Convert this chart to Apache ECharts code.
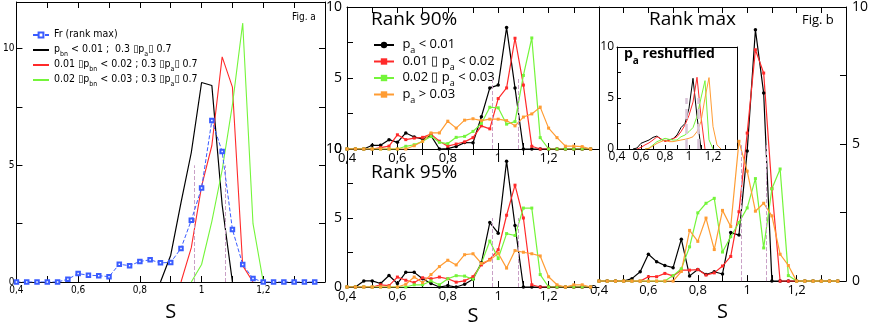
<!DOCTYPE html>
<html><head><meta charset="utf-8">
<script src="https://cdn.jsdelivr.net/npm/echarts@6/dist/echarts.min.js"></script>
<style>html,body{margin:0;padding:0;background:#fff}#c{width:871px;height:327px}</style>
</head><body><div id="c"></div>
<script>
// ---- data ----
const S_BINS = [0.4, 0.4333, 0.4667, 0.5, 0.5333, 0.5667, 0.6, 0.6333, 0.6667, 0.7, 0.7333, 0.7667, 0.8, 0.8333, 0.8667, 0.9, 0.9333, 0.9667, 1.0, 1.0333, 1.0667, 1.1, 1.1333, 1.1667, 1.2, 1.2333, 1.2667, 1.3, 1.3333, 1.3667];
const REF_LINES = [0.977, 1.078];
const REF_TOP = 5;

// Fig. a
const frRankMax = [0,0,0,0,0,0.12,0.36,0.29,0.27,0.23,0.76,0.70,0.88,0.95,0.82,0.84,1.44,2.65,4.03,6.92,5.59,2.25,0.75,0.15,0,0,0,0,0,0];
const aBlack = [null,null,null,null,null,null,null,null,null,null,null,null,null,null,0,1.15,3.4,5.55,8.55,8.42,3.3,0,null,null,null,null,null,null,null,null];
const aRed   = [null,null,null,null,null,null,null,null,null,null,null,null,null,null,null,null,0,1.47,4.1,5.85,9.65,8.35,0.7,0,null,null,null,null,null,null];
const aGreen = [null,null,null,null,null,null,null,null,null,null,null,null,null,null,null,null,null,0,0.75,2.6,4.8,7.6,11.1,2.5,0,null,null,null,null,null];

// Rank 90%
const r90Black  = [0,0,0,0.26,0.26,0.66,0.47,1.13,0.85,0.7,0.94,0,0.03,0.18,0.45,0.44,2.27,4.3,4.5,8.55,4.3,0,0,0,0,0,0,0,0,0];
const r90Red    = [0,0,0,0,0.1,0.2,1.0,0.66,0.77,0.82,1.05,0.55,0.2,0.35,0.5,0.8,1.63,1.42,3.55,4.3,7.8,4.5,0.19,0,0,0,0,0,0,0];
const r90Green  = [0,0,0,0,0,0,0,0.19,0.3,0.54,0.89,0.47,0.38,0.82,0.89,1.24,1.8,2.94,2.9,1.75,1.93,5.18,7.82,0.8,0,0,0,0,0,0];
const r90Orange = [0,0,0,0,0,0,0,0,0.23,0.54,1.13,1.13,1.96,1.47,2.03,2.13,2.0,2.1,2.1,2.0,1.63,2.25,2.47,2.95,1.47,0.8,0.2,0.2,0.17,0];

// Rank 95%
const r95Black  = [0,0,0.44,0.44,0.25,0.83,0.25,1.06,1.06,0.6,0.25,0,0.1,0,0.2,0.56,1.75,4.67,3.9,9.12,4.45,0,0,0,0,0,0,0,0,0];
const r95Red    = [0,0,0,0,0.16,0.1,0.72,0.49,0.32,0.67,0.6,0.72,0.6,0.35,0.45,0.75,1.6,2.0,2.7,5.2,7.38,5.0,0.16,0,0,0,0,0,0,0];
const r95Green  = [0,0,0,0,0,0,0,0,0.16,0.16,0.44,0.16,0.6,0.82,0.79,0.56,1.71,3.33,2.06,3.87,3.73,5.72,5.72,0.9,0,0,0,0,0,0];
const r95Orange = [0,0,0,0,0,0,0,0.2,0.72,0.32,0.9,1.48,1.94,1.6,2.34,2.41,1.71,1.95,2.45,1.37,2.64,2.52,2.41,2.25,0.74,0.16,0,0.16,0.16,0];

// Rank max
const rmBlack  = [0,0,0,0,0.09,0.34,0.98,0.71,0.57,0.49,1.53,0.19,0.42,0.24,0.34,0.26,1.77,1.68,4.75,9.17,6.86,0,0,0,0,0,0,0,0,0];
const rmRed    = [0,0,0,0,0,0,0.16,0.16,0.28,0.19,0.4,0.4,0.42,0.22,0.3,0.55,0.9,2.53,5.4,8.44,7.59,3.37,0,0,0,0,0,0,0,0];
const rmGreen  = [0,0,0,0,0,0,0,0,0,0.2,0.45,1.25,2.49,2.84,3.02,1.06,1.62,2.14,2.67,3.74,1.21,3.37,4.09,0.2,0,0,0,0,0,0];
const rmOrange = [0,0,0,0,0,0,0,0,0,0,0.35,1.85,1.45,2.3,1.15,2.58,1.99,5.1,4.01,2.55,2.84,2.38,0.98,0.57,0,0,0,0,0,0];

// p_a reshuffled (inset)
const insBlack  = [null,null,null,null,0,0.1,0.56,0.72,0.88,1.14,1.27,0.95,0.8,0.9,1.0,1.37,2.1,2.5,4.0,6.93,3.2,0,null,null,null,null,null,null,null,null];
const insRed    = [null,null,null,null,null,0,0.16,0.4,0.6,0.88,1.2,1.0,0.72,0.85,1.0,1.2,1.7,2.35,3.3,4.6,7.03,3.2,0,null,null,null,null,null,null,null];
const insGreen  = [null,null,null,null,null,null,null,0,0.07,0.4,0.72,0.88,1.05,0.95,0.88,0.88,1.2,1.37,1.7,2.1,3.2,5.0,6.7,0.9,0,null,null,null,null,null];
const insOrange = [null,null,null,null,null,null,null,0,0.07,0.3,0.55,0.72,0.88,0.72,0.72,0.8,0.88,0.95,1.05,1.2,1.7,2.7,5.0,7.0,2.2,0.4,0,null,null,null];

// ---- styles ----
const NARROW = "'Liberation Sans Narrow','DejaVu Sans Condensed',sans-serif";
const SANS = "'Open Sans','Noto Sans',sans-serif";
const BLACK = '#000000', RED = '#ff2a2a', GREEN = '#74f53a', ORANGE = '#ff9c33', BLUE = '#3a5cff', PINK = '#c9a0c6';
const BOX = '\u25AF';

const grids = [
  {left: 12, top: 2, width: 313, height: 290, ymax: 12},
  {left: 347, top: 7, width: 252, height: 142, ymax: 10},
  {left: 347, top: 149, width: 252, height: 144, ymax: 10},
  {left: 599, top: 7, width: 252, height: 286, ymax: 10},
  {left: 617, top: 47, width: 120, height: 102, ymax: 10}
];
const fmtX = v => { const k = Math.round(v * 10); if (k % 2 || k >= 14) return ''; return String(k / 10).replace('.', ','); };
const fmtY = v => (Math.abs(v % 5) < 1e-6 && v <= 10) ? String(v) : '';

const xAxes = [], yAxes = [];
grids.forEach((g, i) => {
  const left = i === 0, inset = i === 4;
  const fs = left ? 10 : (inset ? 12 : 13);
  const ff = left ? NARROW : SANS;
  const tickLen = inset ? 4 : 6;
  xAxes.push({
    type: 'value', gridIndex: i, min: 0.4, max: 1.4, interval: 0.1, position: 'bottom',
    axisLine: {show: true, onZero: false, lineStyle: {color: '#000', width: 1}},
    axisTick: {show: true, inside: true, length: tickLen, lineStyle: {color: '#000'}},
    splitLine: {show: false},
    axisLabel: {formatter: fmtX, fontSize: fs, fontFamily: ff, color: '#000', margin: inset ? 2 : 3, showMaxLabel: false},
    name: (i === 1 || i === 4) ? '' : 'S', nameLocation: 'middle', nameGap: left ? 20 : 19,
    nameTextStyle: {fontSize: 20, fontFamily: SANS, color: '#000'}
  });
  xAxes.push({
    type: 'value', gridIndex: i, min: 0.4, max: 1.4, interval: 0.1, position: 'top',
    axisLine: {show: true, onZero: false, lineStyle: {color: '#000', width: 1}},
    axisTick: {show: !inset, inside: true, length: tickLen, lineStyle: {color: '#000'}},
    splitLine: {show: false}, axisLabel: {show: false}
  });
  const rightLabels = i === 3;
  yAxes.push({
    type: 'value', gridIndex: i, min: 0, max: g.ymax, interval: 2.5, position: 'left',
    axisLine: {show: true, onZero: false, lineStyle: {color: '#000', width: 1}},
    axisTick: {show: !rightLabels, inside: true, length: inset ? 4 : 6, lineStyle: {color: '#000'}},
    splitLine: {show: false},
    axisLabel: {show: !rightLabels, formatter: fmtY, fontSize: left ? 10 : (inset ? 12 : 14), fontFamily: ff, color: '#000', margin: left ? 2 : (inset ? 3 : 5), showMaxLabel: i !== 0}
  });
  yAxes.push({
    type: 'value', gridIndex: i, min: 0, max: g.ymax, interval: 2.5, position: 'right',
    axisLine: {show: i !== 1 && i !== 2, onZero: false, lineStyle: {color: '#000', width: 1}},
    axisTick: {show: (i === 0 || i === 3), inside: true, length: 6, lineStyle: {color: '#000'}},
    splitLine: {show: false},
    axisLabel: {show: rightLabels, formatter: fmtY, fontSize: 14, fontFamily: SANS, color: '#000', margin: 6}
  });
});

function pairs(ys) { return S_BINS.map((x, i) => [x, ys[i]]); }
function refMark(width, color) {
  return {
    silent: true, symbol: 'none', label: {show: false},
    lineStyle: {type: 'dashed', color: color, width: width},
    data: REF_LINES.map(x => [{coord: [x, 0]}, {coord: [x, REF_TOP]}])
  };
}
function ser(name, gi, ys, color, o) {
  o = o || {};
  return Object.assign({
    type: 'line', name: name, xAxisIndex: 2 * gi, yAxisIndex: 2 * gi, data: pairs(ys),
    symbol: o.symbol || 'circle', symbolSize: o.size || 3.5, showSymbol: o.showSymbol !== false,
    lineStyle: {color: color, width: o.width || 1.2, type: o.type || 'solid'},
    itemStyle: {color: color}, connectNulls: false, animation: false, z: o.z || 3
  }, o.extra || {});
}

const series = [];
// Fig. a
series.push(ser('A1', 0, aBlack, BLACK, {showSymbol: false, symbol: 'none', width: 1.2}));
series.push(ser('A2', 0, aRed, RED, {showSymbol: false, symbol: 'none', width: 1.1}));
series.push(ser('A3', 0, aGreen, GREEN, {showSymbol: false, symbol: 'none', width: 1.1}));
series.push(ser('Fr', 0, frRankMax, BLUE, {symbol: 'emptyRect', size: 3.5, width: 1, type: 'dashed', z: 5,
  extra: {markLine: refMark(1, PINK)}}));
// middle + right panels
[[1, r90Black, r90Red, r90Green, r90Orange], [2, r95Black, r95Red, r95Green, r95Orange], [3, rmBlack, rmRed, rmGreen, rmOrange]].forEach(p => {
  const gi = p[0];
  series.push(ser('M1', gi, p[1], BLACK, {size: 3.5, extra: {markLine: refMark(1, PINK)}}));
  series.push(ser('M2', gi, p[2], RED, {symbol: 'rect', size: 3}));
  series.push(ser('M3', gi, p[3], GREEN, {symbol: 'rect', size: 3}));
  series.push(ser('M4', gi, p[4], ORANGE, {symbol: 'rect', size: 3}));
});
// inset
series.push(ser('I1', 4, insBlack, BLACK, {showSymbol: false, symbol: 'none', width: 1, extra: {markLine: refMark(2.5, '#d9c4d8')}}));
series.push(ser('I2', 4, insRed, RED, {showSymbol: false, symbol: 'none', width: 1}));
series.push(ser('I3', 4, insGreen, GREEN, {showSymbol: false, symbol: 'none', width: 1}));
series.push(ser('I4', 4, insOrange, ORANGE, {showSymbol: false, symbol: 'none', width: 1}));

const richL = {
  t: {fontSize: 10.5, lineHeight: 14, verticalAlign: 'top', padding: [1, 0, 0, 0], fontFamily: NARROW, color: '#000'},
  s: {fontSize: 7, lineHeight: 9, verticalAlign: 'top', padding: [8, 0, 0, 0], fontFamily: NARROW, color: '#000'}
};
const labelsL = {
  'Fr': '{t|Fr (rank max)}{s| }',
  'A1': '{t|p}{s|bn}{t| < 0.01 ;  0.3 ' + BOX + 'p}{s|a}{t|' + BOX + ' 0.7}',
  'A2': '{t|0.01 ' + BOX + 'p}{s|bn}{t| < 0.02 ; 0.3 ' + BOX + 'p}{s|a}{t|' + BOX + ' 0.7}',
  'A3': '{t|0.02 ' + BOX + 'p}{s|bn}{t| < 0.03 ; 0.3 ' + BOX + 'p}{s|a}{t|' + BOX + ' 0.7}'
};
const richM = {
  t: {fontSize: 13, lineHeight: 16, verticalAlign: 'top', padding: [1, 0, 0, 0], fontFamily: SANS, color: '#000'},
  s: {fontSize: 9, lineHeight: 9, verticalAlign: 'top', padding: [9, 0, 0, 0], fontFamily: SANS, color: '#000'}
};
const labelsM = {
  'M1': '{t| p}{s|a}{t| < 0.01}',
  'M2': '{t| 0.01 ' + BOX + ' p}{s|a}{t| < 0.02}',
  'M3': '{t| 0.02 ' + BOX + ' p}{s|a}{t| < 0.03}',
  'M4': '{t| p}{s|a}{t| > 0.03}'
};
const noSym = {opacity: 0};

const option = {
  backgroundColor: '#ffffff',
  animation: false,
  grid: grids.map((g, i) => ({left: g.left, top: g.top, width: g.width, height: g.height, containLabel: false,
    show: i === 4, backgroundColor: '#ffffff', borderWidth: 0})),
  xAxis: xAxes, yAxis: yAxes, series: series,
  legend: [
    {data: [{name: 'Fr'}, {name: 'A1', itemStyle: noSym}, {name: 'A2', itemStyle: noSym}, {name: 'A3', itemStyle: noSym}],
      orient: 'vertical', left: 27, top: 23, itemWidth: 16, itemHeight: 6, itemGap: 0,
      selectedMode: false, formatter: n => labelsL[n], textStyle: {rich: richL}},
    {data: ['M1', 'M2', 'M3', 'M4'], orient: 'vertical', left: 368, top: 32, itemWidth: 20, itemHeight: 8, itemGap: -1.5,
      selectedMode: false, formatter: n => labelsM[n], textStyle: {rich: richM}}
  ],
  graphic: [
    {type: 'text', left: 292, top: 12, style: {text: 'Fig. a', fontSize: 10, fontFamily: NARROW, fill: '#000'}},
    {type: 'text', left: 371, top: 10, style: {text: 'Rank 90%', fontSize: 19, fontFamily: SANS, fill: '#000'}},
    {type: 'text', left: 371, top: 163, style: {text: 'Rank 95%', fontSize: 19, fontFamily: SANS, fill: '#000'}},
    {type: 'text', left: 649, top: 10, style: {text: 'Rank max', fontSize: 19, fontFamily: SANS, fill: '#000'}},
    {type: 'text', left: 802, top: 14, style: {text: 'Fig. b', fontSize: 13, fontFamily: SANS, fill: '#000'}},
    {type: 'text', left: 624, top: 46, z: 100, style: {text: '{t|p}{s|a}{t| reshuffled}', fill: '#000',
      rich: {t: {fontSize: 14, fontWeight: 'bold', lineHeight: 17, verticalAlign: 'top', padding: [1, 0, 0, 0], fontFamily: SANS},
             s: {fontSize: 10, fontWeight: 'bold', lineHeight: 10, verticalAlign: 'top', padding: [10, 0, 0, 0], fontFamily: SANS}}}}
  ]
};
const chart = echarts.init(document.getElementById('c'), null, {renderer: 'canvas'});
chart.setOption(option);
</script>
</body></html>
